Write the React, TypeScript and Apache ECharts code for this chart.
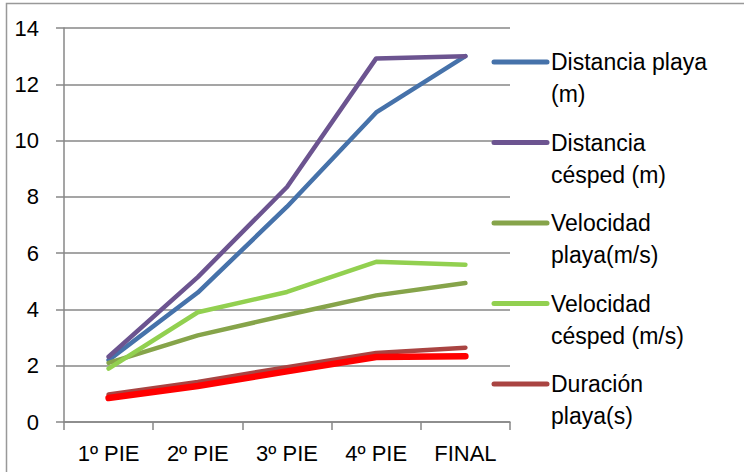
import React, { useEffect, useRef } from "react";
import * as echarts from "echarts";

const categories = ["1º PIE", "2º PIE", "3º PIE", "4º PIE", "FINAL"];
const yTicks = { min: 0, max: 14, interval: 2 };

const seriesNames = [
  "Distancia playa (m)",
  "Distancia césped (m)",
  "Velocidad playa(m/s)",
  "Velocidad césped (m/s)",
  "Duración playa(s)",
  "Duración césped(s)",
];
const distanciaPlaya = [2.2, 4.6, 7.65, 11.0, 13.0];
const distanciaCesped = [2.32, 5.15, 8.35, 12.92, 13.0];
const velocidadPlaya = [2.1, 3.08, 3.8, 4.5, 4.94];
const velocidadCesped = [1.9, 3.9, 4.62, 5.69, 5.59];
const duracionPlaya = [0.98, 1.42, 1.95, 2.45, 2.64];
const duracionCesped = [0.85, 1.28, 1.8, 2.31, 2.34];

const seriesValues = [
  distanciaPlaya,
  distanciaCesped,
  velocidadPlaya,
  velocidadCesped,
  duracionPlaya,
  duracionCesped,
];
const colors = ["#4672AA", "#6C5490", "#86A44A", "#92D050", "#A94442", "#FF0000"];
const widths = [4.5, 4.5, 4.5, 4.5, 4.5, 6.5];
const legendCount = 5;

const FONT = "'Liberation Sans', Arial, sans-serif";

function wrap(text: string, max: number): string {
  const words = text.split(" ");
  const lines: string[] = [];
  let cur = "";
  for (const w of words) {
    const next = cur ? cur + " " + w : w;
    if (next.length > max && cur) {
      lines.push(cur);
      cur = w;
    } else cur = next;
  }
  if (cur) lines.push(cur);
  return lines.join("\n");
}

export default function App() {
  const ref = useRef<HTMLDivElement>(null);
  useEffect(() => {
    if (!ref.current) return;
    const chart = echarts.init(ref.current, undefined, { renderer: "svg" });
    const legendEls: any[] = [];
    const legendTop = 62;
    const legendStep = 80.5;
    for (let i = 0; i < legendCount; i++) {
      const y = legendTop + i * legendStep;
      legendEls.push({
        type: "line",
        shape: { x1: 494, y1: y, x2: 547, y2: y },
        style: { stroke: colors[i], lineWidth: 5, lineCap: "round" },
        z: 10,
      });
      legendEls.push({
        type: "text",
        x: 551,
        y: y - 16,
        style: {
          text: wrap(seriesNames[i], 15),
          font: `23px ${FONT}`,
          fill: "#000",
          lineHeight: 32,
          verticalAlign: "top",
          align: "left",
        },
        z: 10,
      });
    }
    legendEls.push({
      type: "rect",
      shape: { x: 6.5, y: 3.5, width: 900, height: 700 },
      style: { fill: "none", stroke: "#999999", lineWidth: 1.5 },
      z: 0,
    });

    chart.setOption({
      animation: false,
      backgroundColor: "#ffffff",
      grid: { left: 64, right: 234, top: 28, bottom: 50, containLabel: false },
      xAxis: {
        type: "category",
        data: categories,
        boundaryGap: true,
        axisLine: { show: true, lineStyle: { color: "#878787", width: 1.5 } },
        axisTick: { show: true, length: 8, lineStyle: { color: "#878787", width: 1.5 } },
        axisLabel: { color: "#000", fontSize: 22, fontFamily: FONT, margin: 20 },
        splitLine: { show: false },
      },
      yAxis: {
        type: "value",
        min: yTicks.min,
        max: yTicks.max,
        interval: yTicks.interval,
        axisLine: { show: true, lineStyle: { color: "#878787", width: 1.5 } },
        axisTick: { show: true, length: 8, lineStyle: { color: "#878787", width: 1.5 } },
        axisLabel: { color: "#000", fontSize: 22, fontFamily: FONT, margin: 25 },
        splitLine: { show: true, lineStyle: { color: "#878787", width: 1.5 } },
      },
      graphic: legendEls,
      series: seriesValues.map((vals, i) => ({
        name: seriesNames[i],
        type: "line",
        data: vals,
        showSymbol: false,
        symbol: "none",
        smooth: false,
        lineStyle: { color: colors[i], width: widths[i], cap: "round", join: "round" },
        itemStyle: { color: colors[i] },
        z: 2 + i,
      })),
    });
    return () => chart.dispose();
  }, []);
  return (
    <div
      ref={ref}
      style={{ position: "fixed", left: 0, top: 0, width: 744, height: 472, background: "#fff" }}
    />
  );
}
